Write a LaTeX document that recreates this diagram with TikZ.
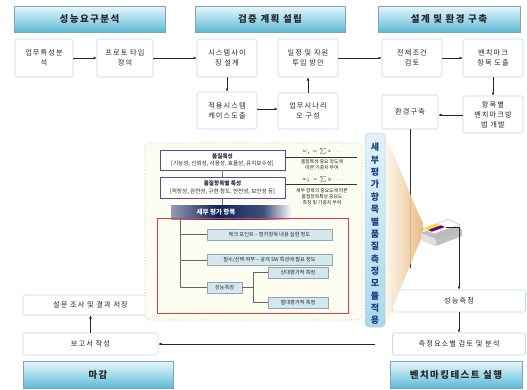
\documentclass[tikz,border=0pt]{standalone}
\usepackage{amsmath}
\usepackage{fontspec}
\setmainfont{Noto Sans CJK KR}
\newfontfamily\krs[LetterSpace=15]{Noto Sans CJK KR}
\usetikzlibrary{arrows.meta,calc}

\definecolor{hdtop}{HTML}{E6F5FA}
\definecolor{hdmid}{HTML}{A4DAEB}
\definecolor{hdbot}{HTML}{5CB8D5}
\definecolor{hdline}{HTML}{7FA4B8}
\definecolor{boxline}{HTML}{C2D9E6}
\definecolor{txt}{HTML}{262626}
\definecolor{framegreen}{HTML}{C4D66A}
\definecolor{framefill}{HTML}{FCFCF1}
\definecolor{qline}{HTML}{5B4A9A}
\definecolor{redline}{HTML}{E33A4B}
\definecolor{leaffill}{HTML}{D3E7EC}
\definecolor{leafline}{HTML}{8EA7B0}
\definecolor{navy}{HTML}{0F2358}
\definecolor{vlabtxt}{HTML}{1D3A86}
\definecolor{vlabtop}{HTML}{E2F3FA}
\definecolor{vlabbot}{HTML}{A9D8EA}
\definecolor{conel}{HTML}{FDF6EA}
\definecolor{coner}{HTML}{E6B574}

\tikzset{
  hdr/.style={draw=hdline, line width=0.6pt, top color=hdtop, bottom color=hdbot,
    middle color=hdmid, text=txt, inner sep=0pt,
    font=\krs\bfseries\fontsize{9.5}{11}\selectfont},
  procbox/.style={draw=boxline, line width=0.6pt, fill=white, rounded corners=1.5pt,
    align=center, text=txt, inner sep=1pt,
    font=\krs\fontsize{7.2}{10}\selectfont},
  qbox/.style={draw=qline, line width=0.9pt, fill=white, align=center, text=txt,
    inner sep=0pt, minimum width=125pt, font=\fontsize{5.6}{7.6}\selectfont},
  leaf/.style={draw=leafline, line width=0.4pt, fill=leaffill, text=txt,
    inner sep=0pt, minimum height=11pt, font=\fontsize{5.2}{6}\selectfont},
  note/.style={text=txt, align=center, inner sep=0pt,
    font=\fontsize{4.8}{5.8}\selectfont},
  formula/.style={text=txt, inner sep=0pt, font=\fontsize{5.5}{6}\selectfont},
  arr/.style={-{Latex[length=3.2pt,width=2.8pt]}, line width=0.6pt, draw=black!85},
  plain/.style={line width=0.6pt, draw=black!80},
  tree/.style={line width=0.5pt, draw=black!60},
}

\begin{document}
\begin{tikzpicture}[x=1pt,y=-1pt]
\useasboundingbox (0,0) rectangle (527,389);
\fill[white] (0,0) rectangle (527,389);

% phase headers
\node[hdr, minimum width=151pt, minimum height=26pt] (h1) at (89.5,19) {성능요구분석};
\node[hdr, minimum width=150pt, minimum height=26pt] (h2) at (270,19) {검증 계획 설립};
\node[hdr, minimum width=142pt, minimum height=26pt] (h3) at (449,19) {설계 및 환경 구축};
\node[hdr, minimum width=150pt, minimum height=27pt] (h4) at (98,374.5) {마감};
\node[hdr, minimum width=132pt, minimum height=27pt] (h5) at (456,374.5) {벤치마킹테스트 실행};

% upper process steps
\node[procbox, minimum width=58pt, minimum height=38pt] (a1) at (44,58) {업무특성분\\석};
\node[procbox, minimum width=56pt, minimum height=38pt] (a2) at (125,58) {프로토 타입\\정의};
\node[procbox, minimum width=60pt, minimum height=38pt] (b1) at (227,58) {시스템사이\\징 설계};
\node[procbox, minimum width=60pt, minimum height=37pt] (b2) at (227,110.5) {적용시스템\\케이스도출};
\node[procbox, minimum width=60pt, minimum height=38pt] (b3) at (308,58) {일정 및 자원\\투입 방안};
\node[procbox, minimum width=60pt, minimum height=36pt] (b4) at (308,111) {업무시나리\\오 구성};
\node[procbox, minimum width=60pt, minimum height=38pt] (c1) at (412,58) {전제조건\\검토};
\node[procbox, minimum width=60pt, minimum height=38pt] (c2) at (493,58) {벤치마크\\항목 도출};
\node[procbox, minimum width=60pt, minimum height=37pt] (c3) at (493,114.5) {항목별\\벤치마크방\\법 개발};
\node[procbox, minimum width=56pt, minimum height=34pt] (c4) at (410,112) {환경구축};

\draw[arr] (a1) -- (a2);
\draw[arr] (a2) -- (b1);
\draw[arr] (b1) -- (b2);
\draw[arr] (b2.east |- 0,109) -- (b4.west |- 0,109);
\draw[arr] (b4) -- (b3);
\draw[arr] (b3) -- (c1);
\draw[arr] (c1) -- (c2);
\draw[arr] (c2) -- (c3);
\draw[arr] (c3.west |- 0,115) -- (c4.east |- 0,115);

% lower process steps
\node[procbox, minimum width=135pt, minimum height=20pt] (d1) at (90.5,305) {설문 조사 및 결과 저장};
\node[procbox, minimum width=135pt, minimum height=22pt] (d2) at (90.5,344) {보고서 작성};
\node[procbox, minimum width=133pt, minimum height=22pt] (e1) at (459,301) {성능측정};
\node[procbox, minimum width=133pt, minimum height=22pt] (e2) at (459,344) {측정요소별 검토 및 분석};

\coordinate (e2w) at ($(e2.west)+(-17,0)$);
\draw[arr] (e1) -- (e2);
\draw[arr] (e2w) -- (d2.east);
\draw[arr] (d2) -- (d1);

% detailed evaluation module
\draw[framegreen, fill=framefill, line width=0.9pt, dotted, rounded corners=4pt]
  (145,143) rectangle (362,320);

\node[qbox, minimum height=20pt] (q1) at (222.5,160)
  {\textbf{품질특성}\\{}[기능성, 신뢰성, 사용성, 효율성, 유지보수성]};
\node[qbox, minimum height=21pt] (q2) at (222.5,187.5)
  {\textbf{품질항목별 특성}\\{}[적정성, 완전성, 구현 정도, 안전성, 보안성 등]};

\coordinate (f1end) at (357,157);
\coordinate (f2end) at (357,184);
\draw[plain, line width=0.5pt] ([yshift=3pt]q1.east) -- (f1end);
\draw[plain, line width=0.5pt] ([yshift=3.5pt]q2.east) -- (f2end);
\node[formula] (fx1) at (322,151.5) {$w_i=\sum x\ldots$};
\node[formula] (fx2) at (322,179.5) {$w_j=\sum y\ldots$};
\node[note] (n1) at (322,164.5) {품질특성 중요 정도에\\따른 가중치 부여};
\node[note] (n2) at (322,196.5) {세부 항목의 중요도에 따른\\품질항목특성 중요도\\측정 및 가중치 부여};

% banner
\node[inner sep=0pt, minimum width=92pt, minimum height=14pt,
  left color=navy!45, right color=navy!80, middle color=navy] (bn) at (217,212.5) {};
\shade[left color=navy!80, right color=white] (263,205.5) rectangle (292,219.5);
\node[text=white, font=\bfseries\fontsize{6.5}{7}\selectfont] (bnt) at (216,212.5) {세부 평가 항목};
\draw[plain, line width=0.6pt, draw=black!55] (q1) -- (q2);
\draw[plain, line width=0.6pt, draw=black!55] (q2.south) -- (q2.south |- bn.north);

% evaluation items
\draw[redline, line width=1pt] (157,218) rectangle (348,313);
\coordinate (trunk) at (180,218.5);
\node[leaf, minimum width=125pt] (t1) at (269.5,234.5) {체크 포인트 – 평가항목 내용 실현 정도};
\node[leaf, minimum width=125pt] (t2) at (269.5,260) {필수/선택 여부 – 공개 SW 특성에 필요 정도};
\node[leaf, minimum width=35pt] (t3) at (224.5,287.5) {성능측정};
\node[leaf, minimum width=60pt] (t4) at (298,272.5) {상대평가적 측정};
\node[leaf, minimum width=60pt] (t5) at (298,302.5) {절대평가적 측정};
\coordinate (fork) at (253,287.5);
\draw[tree] (trunk) |- (t3.west);
\draw[tree] (trunk |- t1.west) -- (t1.west);
\draw[tree] (trunk |- t2.west) -- (t2.west);
\draw[tree] (t3.east) -- (fork);
\draw[tree] (fork |- t4.west) |- (t5.west);
\draw[tree] (fork |- t4.west) -- (t4.west);

% feed from the environment into the module
\coordinate (drop) at (410,268);
\draw[plain] (c4.south) -- (drop);

% light cone
\shade[left color=conel, right color=coner, opacity=0.88]
  (385,136) .. controls (400,166) and (412,201) .. (423,223)
  -- (423,235) .. controls (412,258) and (400,292) .. (385,326) -- cycle;

% vertical label
\node[draw=vlabbot!80!black!60, line width=0.5pt, rounded corners=4pt,
  top color=vlabtop, bottom color=vlabbot, minimum width=20pt, minimum height=194pt,
  inner sep=0pt] (vl) at (375,230) {};
\node[text=vlabtxt, align=center, inner sep=0pt,
  font=\bfseries\fontsize{9}{12.36}\selectfont] (vlt) at (375,234)
  {세\\부\\평\\가\\항\\목\\별\\품\\질\\측\\정\\모\\듈\\적\\용};

% scanner icon
\fill[black!25] (421,233) -- (447,223.5) -- (462,229) -- (462,236) -- (436,246) -- (421,240) -- cycle;
\fill[black!12] (421,233) -- (436,239) -- (436,246) -- (421,240) -- cycle;
\fill[white] (422,229) -- (448,219.5) -- (460,224.5) -- (434,234) -- cycle;
\draw[black!35, line width=0.3pt] (422,229) -- (448,219.5) -- (460,224.5) -- (434,234) -- cycle;
\fill[yellow!85!orange] (424,228.5) -- (437,223.7) -- (441,225.3) -- (428,230) -- cycle;
\fill[violet!80!blue] (428,230) -- (441,225.3) -- (445,227) -- (432,231.6) -- cycle;
\draw[black!30, line width=0.3pt] (434,236) -- (460,226.5) (434,238) -- (460,228.5)
  (434,240) -- (460,230.5);
\coordinate (pr) at (446,227);
\draw[arr] (pr) -| (e1.north);

\end{tikzpicture}
\end{document}
